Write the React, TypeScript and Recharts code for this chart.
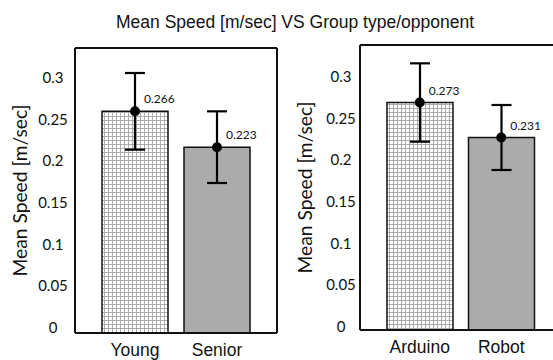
import { ComposedChart, Bar, Line, XAxis, YAxis, ErrorBar, Cell, Label } from "recharts";

const groupCategories = ["Young", "Senior"];
const groupMeans = [0.266, 0.223];
const groupErrors = [0.046, 0.043];

const opponentCategories = ["Arduino", "Robot"];
const opponentMeans = [0.273, 0.231];
const opponentErrors = [0.047, 0.039];

const yTicks = [0, 0.05, 0.1, 0.15, 0.2, 0.25, 0.3];

const buildRows = (cats: string[], means: number[], errs: number[]) =>
  cats.map((name, i) => ({ name, mean: means[i], err: errs[i] }));

type PanelProps = {
  rows: { name: string; mean: number; err: number }[];
  patternId: string;
  width: number;
  top: number;
  rightMargin: number;
  tickDx: number;
  tickDy: number;
};

function Panel({ rows, patternId, width, top, rightMargin, tickDx, tickDy }: PanelProps) {
  const YTick = (p: any) => (
    <text
      x={75 - tickDx}
      y={p.y + tickDy + 5}
      textAnchor="middle"
      fontFamily="Lato"
      fontSize={15}
      fill="#111"
    >
      {p.payload.value}
    </text>
  );

  const ValueLabel = (p: any) => (
    <text x={p.x + 9} y={p.y - 8} fontFamily="Lato" fontSize={12} fill="#111">
      {Number(p.value).toFixed(3)}
    </text>
  );

  const YTitle = (p: any) => {
    const cx = 19;
    const cy = p.viewBox.y + p.viewBox.height / 2;
    return (
      <text
        x={cx}
        y={cy}
        transform={`rotate(-90, ${cx}, ${cy})`}
        textAnchor="middle"
        dominantBaseline="central"
        fontFamily="Lato"
        fontSize={19}
        textLength={172}
        lengthAdjust="spacingAndGlyphs"
        fill="#111"
      >
        Mean Speed [m/sec]
      </text>
    );
  };

  return (
    <ComposedChart
      width={width}
      height={top + 285 + 27}
      data={rows}
      margin={{ top: top - 1, right: rightMargin - 1, bottom: 0, left: 0 }}
    >
      <defs>
        <pattern id={patternId} width={4} height={4} patternUnits="userSpaceOnUse">
          <rect width={4} height={4} fill="#fff" />
          <path d="M0 0.5 H4 M0.5 0 V4" stroke="#9a9a9a" strokeWidth={0.8} />
        </pattern>
      </defs>
      <XAxis
        dataKey="name"
        padding={{ left: 19, right: 19 }}
        tickLine={false}
        tickSize={0}
        tickMargin={11}
        height={27}
        axisLine={{ stroke: "#111", strokeWidth: 2 }}
        tick={{ fontFamily: "Liberation Sans", fontSize: 17.5, fill: "#111" }}
      />
      <XAxis
        xAxisId="top"
        orientation="top"
        dataKey="name"
        height={1}
        tick={false}
        tickLine={false}
        axisLine={{ stroke: "#111", strokeWidth: 2 }}
      />
      <YAxis
        domain={[0, 0.342]}
        ticks={yTicks}
        width={75}
        tickLine={false}
        axisLine={{ stroke: "#111", strokeWidth: 2 }}
        tick={YTick}
      >
        <Label content={YTitle} />
      </YAxis>
      <YAxis
        yAxisId="right"
        orientation="right"
        domain={[0, 0.342]}
        width={1}
        tick={false}
        tickLine={false}
        axisLine={{ stroke: "#111", strokeWidth: 2 }}
      />
      <Bar dataKey="mean" barSize={66} stroke="#111" strokeWidth={1.5} isAnimationActive={false}>
        {rows.map((r, i) => (
          <Cell key={r.name} fill={i === 0 ? `url(#${patternId})` : "#ababab"} />
        ))}
        <ErrorBar dataKey="err" width={10} stroke="#000" strokeWidth={2.2} />
      </Bar>
      <Line
        dataKey="mean"
        stroke="none"
        dot={{ r: 5, fill: "#000", stroke: "none" }}
        activeDot={false}
        label={ValueLabel}
        isAnimationActive={false}
      />
      <Line
        xAxisId="top"
        yAxisId="right"
        dataKey="mean"
        stroke="none"
        dot={false}
        activeDot={false}
        isAnimationActive={false}
      />
    </ComposedChart>
  );
}

export default function App() {
  return (
    <div
      style={{
        position: "absolute",
        left: 0,
        top: 0,
        width: 553,
        height: 360,
        overflow: "hidden",
        background: "#fff",
      }}
    >
      <div
        style={{
          position: "absolute",
          left: 0,
          top: 12,
          width: 590,
          textAlign: "center",
          fontFamily: "Liberation Sans",
          fontSize: 17.5,
          lineHeight: "20px",
          color: "#111",
        }}
      >
        Mean Speed [m/sec] VS Group type/opponent
      </div>
      <div style={{ position: "absolute", left: 0, top: 0 }}>
        <Panel
          rows={buildRows(groupCategories, groupMeans, groupErrors)}
          patternId="hatchA"
          width={300}
          top={48}
          rightMargin={23}
          tickDx={22}
          tickDy={-5}
        />
      </div>
      <div style={{ position: "absolute", left: 285, top: 0 }}>
        <Panel
          rows={buildRows(opponentCategories, opponentMeans, opponentErrors)}
          patternId="hatchB"
          width={315}
          top={45}
          rightMargin={39}
          tickDx={19}
          tickDy={-3}
        />
      </div>
    </div>
  );
}
